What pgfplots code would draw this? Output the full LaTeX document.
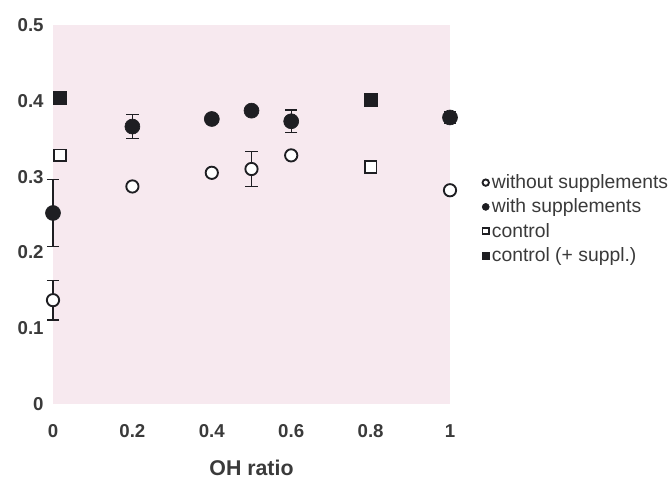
\documentclass[border=0pt]{standalone}
\usepackage{fontspec}
\setmainfont{Liberation Sans}
\usepackage{pgfplots}
\pgfplotsset{compat=1.18}
\definecolor{bgpink}{HTML}{F7E9EF}
\definecolor{mk}{HTML}{1E1E22}
\definecolor{txt}{HTML}{3A3A3A}

\pgfplotsset{
  errstyle/.style={
    error bars/.cd, y dir=both, y explicit,
    error bar style={line width=1pt, mk},
    error mark options={rotate=90, mark size=4.6pt, line width=1pt, mk},
  },
  smallmark/.style={
    legend image code/.code={\draw[##1, mark size=#1] plot coordinates {(0.12cm,0cm)};}
  },
}

\begin{document}
\begin{tikzpicture}
\begin{axis}[
  scale only axis,
  width=297.75pt, height=284.25pt,
  xmin=0, xmax=1, ymin=0, ymax=0.5,
  clip=false,
  axis background/.style={fill=bgpink},
  axis line style={draw=none},
  major tick style={draw=none},
  xtick={0,0.2,0.4,0.6,0.8,1},
  ytick={0,0.1,0.2,0.3,0.4,0.5},
  /pgf/number format/assume math mode=true,
  ticklabel style={font=\bfseries\fontsize{14}{16}\selectfont, text=txt},
  yticklabel style={xshift=-3.5pt},
  xticklabel style={yshift=-12pt},
  xlabel={OH ratio},
  xlabel style={at={(axis description cs:0.5,0)}, anchor=center, yshift=-47.6pt,
    font=\bfseries\fontsize{16}{18}\selectfont, text=txt},
  legend style={draw=none, fill=none, at={(axis description cs:1,0.62)},
    anchor=north west, xshift=21pt, font=\fontsize{14.5}{17}\selectfont,
    text=txt, legend cell align=left, row sep=2.2pt,
    /tikz/every even column/.append style={column sep=0pt}},
]
\coordinate (sw) at (rel axis cs:0,0);
\coordinate (ne) at (rel axis cs:1,1);
% without supplements
\addplot[only marks, mark=*, mark size=4.6pt, line width=1.4pt, mk,
  mark options={fill=white, draw=mk}, smallmark=2.4pt, errstyle]
  coordinates {
  (0,0.137) +- (0,0.026)
  (0.2,0.287) +- (0,0)
  (0.4,0.305) +- (0,0)
  (0.5,0.310) +- (0,0.023)
  (0.6,0.328) +- (0,0)
  (1.0,0.282) +- (0,0)
};
% with supplements
\addplot[only marks, mark=*, mark size=5.6pt, line width=0.5pt, mk,
  mark options={fill=mk, draw=mk}, smallmark=2.6pt, errstyle]
  coordinates {
  (0,0.252) +- (0,0.044)
  (0.2,0.366) +- (0,0.016)
  (0.4,0.376) +- (0,0)
  (0.5,0.387) +- (0,0)
  (0.6,0.373) +- (0,0.015)
  (1.0,0.378) +- (0,0.008)
};
% control
\addplot[only marks, mark=square*, mark size=4.4pt, line width=1.4pt, mk,
  mark options={fill=white, draw=mk}, smallmark=2.4pt, errstyle]
  coordinates {
  (0.018,0.328) +- (0,0.007)
  (0.8,0.313) +- (0,0)
};
% control (+ suppl.)
\addplot[only marks, mark=square*, mark size=4.8pt, line width=0.5pt, mk,
  mark options={fill=mk, draw=mk}, smallmark=2.6pt, errstyle]
  coordinates {
  (0.018,0.404) +- (0,0)
  (0.8,0.401) +- (0,0.005)
};
\legend{without supplements, with supplements, control, control (+ suppl.)}
\end{axis}
\pgfresetboundingbox
\path ([xshift=-39.75pt,yshift=-55.5pt]sw) rectangle ([xshift=165.75pt,yshift=18.75pt]ne);
\end{tikzpicture}
\end{document}
